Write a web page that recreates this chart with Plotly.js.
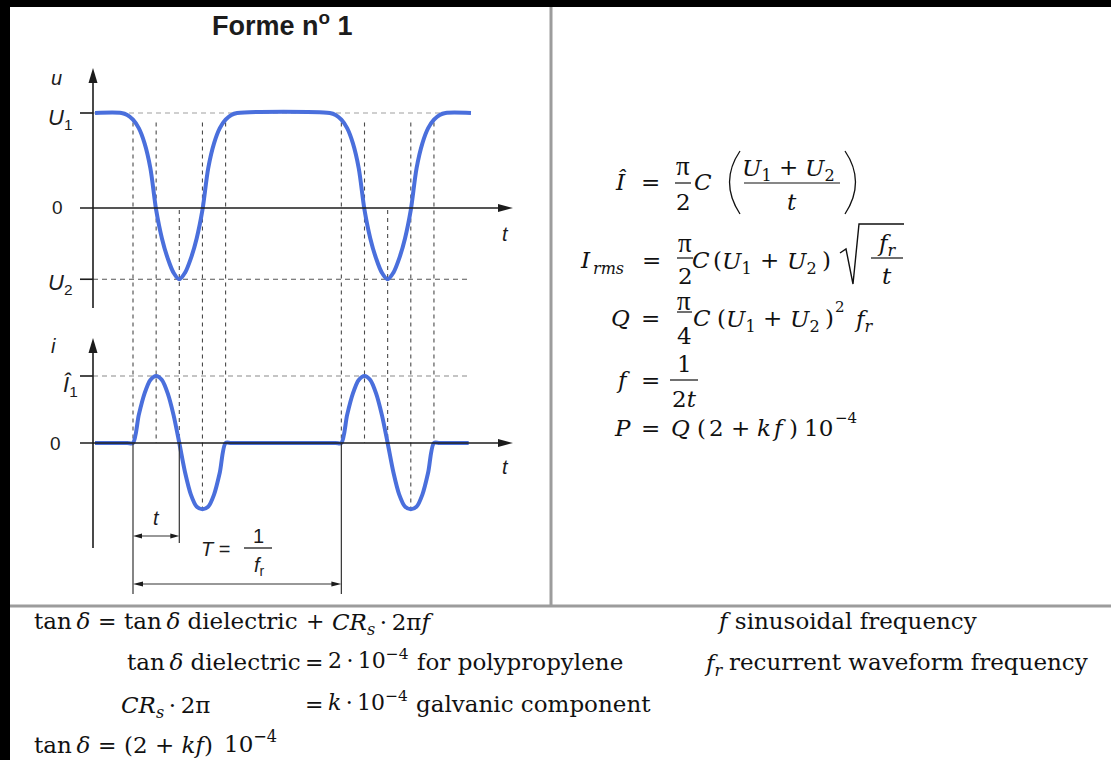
<!DOCTYPE html>
<html>
<head>
<meta charset="utf-8">
<script src="https://cdn.plot.ly/plotly-3.0.1.min.js"></script>
<style>html,body{margin:0;padding:0;background:#000;}</style>
</head>
<body>
<div id="chart" style="width:1111px;height:760px;"></div>
<script>
// Waveform "Forme no 1": capacitor voltage u and current i over time.
// Time is in units of t/2 (half of the transition time t); u is relative to U1, i relative to Î1.
const U1 = 1, U2 = -0.75, I1 = 1, Imin = -0.99;

const tU = [0.36, 1.5, 1.75, 2, 2.25, 2.5, 2.75, 3, 3.25, 3.5, 3.75, 4, 4.25, 4.5, 4.75, 5, 5.25, 5.5, 5.75, 6, 6.25, 6.5,
            10.5, 10.75, 11, 11.25, 11.5, 11.75, 12, 12.25, 12.5, 12.75, 13, 13.25, 13.5, 13.75, 14, 14.25, 14.5, 14.75, 15, 15.25, 15.5,
            16.6];
const uVal = [1, 1, 0.98, 0.93, 0.84, 0.68, 0.42, -0.02, -0.32, -0.53, -0.68, -0.75, -0.68, -0.53, -0.32, -0.02, 0.42, 0.68, 0.84, 0.93, 0.98, 1,
              1, 0.98, 0.93, 0.84, 0.68, 0.42, -0.02, -0.32, -0.53, -0.68, -0.75, -0.68, -0.53, -0.32, -0.02, 0.42, 0.68, 0.84, 0.93, 0.98, 1,
              1];

const tI = [0.36, 1.75, 2, 2.25, 2.5, 2.75, 3, 3.25, 3.5, 3.75, 4, 4.25, 4.5, 4.75, 5, 5.25, 5.5, 5.75, 6, 6.25,
            10.75, 11, 11.25, 11.5, 11.75, 12, 12.25, 12.5, 12.75, 13, 13.25, 13.5, 13.75, 14, 14.25, 14.5, 14.75, 15, 15.25,
            16.5];
const iVal = [0, 0, 0, 0.42, 0.74, 0.94, 1, 0.94, 0.74, 0.42, 0, -0.44, -0.77, -0.95, -0.99, -0.95, -0.77, -0.44, 0, 0,
              0, 0, 0.42, 0.74, 0.94, 1, 0.94, 0.74, 0.42, 0, -0.44, -0.77, -0.95, -0.99, -0.95, -0.77, -0.44, 0, 0,
              0];

// instants marked by the dashed guides
const markT = [2, 3, 4, 5, 6, 11, 12, 13, 14, 15];
const pulseStarts = [2, 11];   // T = 1/fr runs between these
const tSpan = [2, 4];          // transition time t

// ---------- page geometry ----------
const W = 1111, H = 760;
const X = p => p / W, Y = p => 1 - p / H;
const X0 = 86.7, XS = 23.15;            // time axis: pixel = X0 + XS * time
const xPx = t => X0 + XS * t;
const U0 = 208, US = 95;                // u panel: pixel = U0 - US * u
const I0 = 443, IS = 67;                // i panel: pixel = I0 - IS * i
const uPx = u => U0 - US * u, iPx = i => I0 - IS * i;

const SANS = 'Liberation Sans, Arial, sans-serif';
const SERIF = 'DejaVu Serif, serif';
const TIMES = 'Liberation Serif, serif';
const INK = '#1c1c1c';
const BLUE = '#4a6fdc';

const traces = [
  {x: tU, y: uVal, xaxis: 'x', yaxis: 'y', mode: 'lines', hoverinfo: 'skip',
   line: {color: BLUE, width: 4, shape: 'spline', smoothing: 0.9}},
  {x: tI, y: iVal, xaxis: 'x', yaxis: 'y2', mode: 'lines', hoverinfo: 'skip',
   line: {color: BLUE, width: 4, shape: 'spline', smoothing: 0.8}}
];

// ---------- helpers ----------
const seg = (x0, y0, x1, y1, color, width, dash, layer) => ({
  type: 'line', xref: 'paper', yref: 'paper', x0: X(x0), y0: Y(y0), x1: X(x1), y1: Y(y1),
  line: {color: color, width: width, dash: dash || 'solid'}, layer: layer || 'above'
});
function head(tx, ty, dx, dy, len, hw) {
  const bx = tx - dx * len, by = ty - dy * len, nx = -dy, ny = dx;
  const pts = [[tx, ty], [bx + nx * hw, by + ny * hw], [bx - nx * hw, by - ny * hw]];
  return {type: 'path', xref: 'paper', yref: 'paper', fillcolor: INK, line: {width: 0},
          path: 'M' + pts.map(p => X(p[0]) + ',' + Y(p[1])).join('L') + 'Z'};
}
function curve(pts, width) {
  let d = 'M' + X(pts[0][0]) + ',' + Y(pts[0][1]);
  for (let k = 1; k < pts.length; k++) {
    const p = pts[k];
    d += (p.length === 4 ? 'Q' + X(p[0]) + ',' + Y(p[1]) + ' ' + X(p[2]) + ',' + Y(p[3])
                         : 'L' + X(p[0]) + ',' + Y(p[1]));
  }
  return {type: 'path', xref: 'paper', yref: 'paper', path: d, line: {color: '#111', width: width || 1.3}};
}
function txt(x, y, text, size, family, xanchor, color) {
  return {x: X(x), y: Y(y), xref: 'paper', yref: 'paper', text: text, showarrow: false,
          xanchor: xanchor || 'center', yanchor: 'middle', borderpad: 0,
          font: {family: family || SANS, size: size || 19, color: color || INK}};
}
const eq = (x, y, text, size) => txt(x, y, text, size || 23, SERIF, 'center', '#111');
const pi = (x, y) => txt(x, y, 'π', 27, TIMES, 'center', '#111');
const eqL = (x, y, text, size) => txt(x, y, text, size || 23, SERIF, 'left', '#111');
const bar = (x0, x1, y) => seg(x0, y, x1, y, '#111', 1.2);
const TH = '\u2009';

const shapes = [];
const ann = [];

// frame: black border, white sheet, grey separators
shapes.push({type: 'rect', xref: 'paper', yref: 'paper', x0: X(10), x1: 1, y0: 0, y1: Y(7),
             fillcolor: '#ffffff', line: {width: 0}, layer: 'below'});
shapes.push(seg(551, 7, 551, 606, '#9c9c9c', 3));
shapes.push(seg(10, 606, 1111, 606, '#9c9c9c', 3));

// reference levels
const tAxis = (93 - X0) / XS, tEnd = 16.6;
shapes.push({type: 'line', xref: 'x', yref: 'y', x0: tAxis, x1: tEnd, y0: U1, y1: U1,
             line: {color: '#a0a0a0', width: 1.2, dash: '5px,4px'}, layer: 'below'});
shapes.push({type: 'line', xref: 'x', yref: 'y', x0: tAxis, x1: tEnd, y0: U2, y1: U2,
             line: {color: '#555', width: 1.2, dash: '5px,4px'}, layer: 'below'});
shapes.push({type: 'line', xref: 'x', yref: 'y2', x0: tAxis, x1: tEnd, y0: I1, y1: I1,
             line: {color: '#8a8a8a', width: 1.2, dash: '5px,4px'}, layer: 'below'});

// vertical guides linking u and i
markT.forEach(t => {
  const u = uVal[tU.indexOf(t)], i = iVal[tI.indexOf(t)];
  const top = (u <= U2 + 0.01) ? uPx(0) + 2 : uPx(0.9);
  const bottom = (i <= Imin + 0.01) ? iPx(i) : iPx(0);
  shapes.push({type: 'line', xref: 'x', yref: 'paper', x0: t, x1: t, y0: Y(top), y1: Y(bottom),
               line: {color: '#4a4a4a', width: 1.1, dash: '4px,4px'}, layer: 'below'});
});

// axes with arrowheads
shapes.push(seg(93, 308, 93, 80, INK, 1.6));
shapes.push(head(93, 68, 0, -1, 15, 4.5));
shapes.push(seg(80, uPx(0), 500, uPx(0), INK, 1.6));
shapes.push(head(513, uPx(0), 1, 0, 15, 4));
shapes.push(seg(93, 548, 93, 350, INK, 1.6));
shapes.push(head(93, 338, 0, -1, 15, 4.5));
shapes.push(seg(80, iPx(0), 500, iPx(0), INK, 1.6));
shapes.push(head(513, iPx(0), 1, 0, 15, 4));
shapes.push(seg(80, uPx(U1), 93, uPx(U1), INK, 1.6));
shapes.push(seg(80, uPx(U2), 93, uPx(U2), INK, 1.6));
shapes.push(seg(80, iPx(I1), 93, iPx(I1), INK, 1.6));

// dimension lines: t and T = 1/fr
const yT = 584, yt = 536;
pulseStarts.forEach(t => shapes.push(seg(xPx(t), iPx(0), xPx(t), 594, '#333', 1.2)));
shapes.push(seg(xPx(tSpan[1]), iPx(0), xPx(tSpan[1]), 543, '#333', 1.2));
shapes.push(seg(xPx(tSpan[0]) + 4, yt, xPx(tSpan[1]) - 4, yt, '#333', 1.2));
shapes.push(head(xPx(tSpan[0]), yt, -1, 0, 9, 2.5));
shapes.push(head(xPx(tSpan[1]), yt, 1, 0, 9, 2.5));
shapes.push(seg(xPx(pulseStarts[0]) + 4, yT, xPx(pulseStarts[1]) - 4, yT, '#333', 1.2));
shapes.push(head(xPx(pulseStarts[0]), yT, -1, 0, 10, 2.5));
shapes.push(head(xPx(pulseStarts[1]), yT, 1, 0, 10, 2.5));

// ---------- diagram labels ----------
ann.push(txt(282, 24, '<b>Forme n<sup>o</sup> 1</b>', 27));
ann.push(txt(56, 78, '<i>u</i>', 20));
ann.push(txt(60, 119, '<i>U</i><sub>1</sub>', 22));
ann.push(txt(57, uPx(0), '0', 19));
ann.push(txt(60, 284, '<i>U</i><sub>2</sub>', 22));
ann.push(txt(505, 234, '<i>t</i>', 20));
ann.push(txt(53, 346, '<i>i</i>', 20));
ann.push(txt(70, 386, '<i>Î</i><sub>1</sub>', 22));
ann.push(txt(55, iPx(0), '0', 19));
ann.push(txt(505, 467, '<i>t</i>', 20));
ann.push(txt((xPx(tSpan[0]) + xPx(tSpan[1])) / 2, 518, '<i>t</i>', 20));
ann.push(txt(215, 549, '<i>T</i> =', 20));
ann.push(txt(258, 536, '1', 20));
shapes.push(seg(244, 548, 272, 548, INK, 1.3));
ann.push(txt(259, 566, '<i>f</i><sub>r</sub>', 20));

// ---------- formulas ----------
// Î = π/2 C ((U1 + U2)/t)
ann.push(eq(621, 182, '<i>Î</i>'));
ann.push(eq(650, 182, '='));
ann.push(pi(683, 166)); ann.push(eq(683, 202, '2')); shapes.push(bar(675, 691, 183));
ann.push(eq(703, 182, '<i>C</i>'));
shapes.push(curve([[740, 151], [719, 182, 740, 214]]));
ann.push(eq(757, 170, '<i>U</i><sub>1</sub>')); ann.push(eq(788, 167, '+')); ann.push(eq(820, 170, '<i>U</i><sub>2</sub>'));
shapes.push(bar(744, 840, 183));
ann.push(eq(792, 202, '<i>t</i>'));
shapes.push(curve([[845, 151], [866, 182, 845, 214]]));

// Irms = π/2 C (U1 + U2) sqrt(fr/t)
ann.push(eq(585, 260, '<i>I</i>'));
ann.push(eqL(592, 268, '<i>rms</i>', 16));
ann.push(eq(651, 260, '='));
ann.push(pi(685, 243)); ann.push(eq(685, 276, '2')); shapes.push(bar(677, 693, 258));
ann.push(eq(701, 260, '<i>C</i>'));
ann.push(eq(717, 260, '('));
ann.push(eq(737, 263, '<i>U</i><sub>1</sub>'));
ann.push(eq(769, 260, '+'));
ann.push(eq(802, 263, '<i>U</i><sub>2</sub>'));
ann.push(eq(826, 260, ')'));
shapes.push(curve([[840, 253], [846, 249], [853, 284], [859, 224], [904, 224]], 1.4));
ann.push(eq(887, 245, '<i>f</i><sub><i>r</i></sub>')); ann.push(eq(887, 276, '<i>t</i>')); shapes.push(bar(871, 903, 258));

// Q = π/4 C (U1 + U2)^2 fr
ann.push(eq(620, 318, '<i>Q</i>'));
ann.push(eq(650, 318, '='));
ann.push(pi(684, 301)); ann.push(eq(684, 336, '4')); shapes.push(bar(677, 692, 312));
ann.push(eq(702, 318, '<i>C</i>'));
ann.push(eq(721, 318, '('));
ann.push(eq(741, 321, '<i>U</i><sub>1</sub>'));
ann.push(eq(772, 318, '+'));
ann.push(eq(805, 321, '<i>U</i><sub>2</sub>'));
ann.push(eq(829, 318, ')'));
ann.push(eq(840, 307, '2', 15));
ann.push(eq(864, 321, '<i>f</i><sub><i>r</i></sub>'));

// f = 1/(2t)
ann.push(eq(623, 380, '<i>f</i>'));
ann.push(eq(650, 380, '='));
ann.push(eq(684, 364, '1')); ann.push(eq(684, 399, '2<i>t</i>')); shapes.push(bar(670, 698, 380));

// P = Q (2 + kf) 10^-4
ann.push(eq(622, 428, '<i>P</i>'));
ann.push(eq(650, 428, '='));
ann.push(eq(680, 428, '<i>Q</i>'));
ann.push(eq(702, 428, '('));
ann.push(eq(716, 428, '2'));
ann.push(eq(740, 428, '+'));
ann.push(eq(764, 428, '<i>k</i>'));
ann.push(eq(779, 428, '<i>f</i>'));
ann.push(eq(793, 428, ')'));
ann.push(eq(818, 428, '10'));
ann.push(eq(846, 418, '−4', 15));

// ---------- loss factor notes ----------
ann.push(eqL(33, 621, 'tan' + TH + '<i>δ</i>'));
ann.push(eqL(97, 621, '=', 22));
ann.push(eqL(123, 621, 'tan' + TH + '<i>δ</i> dielectric'));
ann.push(eqL(305, 621, '+', 22));
ann.push(eqL(331, 624, '<i>CR</i><sub><i>s</i></sub>' + TH + '·' + TH + '2π<i>f</i>'));
ann.push(eqL(716, 621, '<i>f</i> sinusoidal frequency'));

ann.push(eqL(126, 662, 'tan' + TH + '<i>δ</i> dielectric'));
ann.push(eqL(304, 662, '=', 22));
ann.push(eqL(327, 659, '2' + TH + '·' + TH + '10<sup>−4</sup>', 22));
ann.push(eqL(416, 662, 'for polypropylene'));
ann.push(eqL(703, 665, '<i>f</i><sub><i>r</i></sub>'));
ann.push(eqL(728, 662, 'recurrent waveform frequency'));

ann.push(eqL(120, 707, '<i>CR</i><sub><i>s</i></sub>' + TH + '·' + TH + '2π'));
ann.push(eqL(304, 704, '=', 22));
ann.push(eqL(327, 701, '<i>k</i>' + TH + '·' + TH + '10<sup>−4</sup>', 22));
ann.push(eqL(415, 704, 'galvanic component'));

ann.push(eqL(33, 745, 'tan' + TH + '<i>δ</i>'));
ann.push(eqL(97, 745, '=', 22));
ann.push(eqL(123, 745, '(2 + <i>kf</i>)'));
ann.push(eqL(223, 742, '10<sup>−4</sup>'));

const layout = {
  width: W, height: H,
  margin: {l: 0, r: 0, t: 0, b: 0, pad: 0},
  paper_bgcolor: '#000000', plot_bgcolor: 'rgba(0,0,0,0)',
  showlegend: false,
  xaxis: {domain: [0, 1], range: [-X0 / XS, (W - X0) / XS], visible: false, fixedrange: true},
  yaxis: {domain: [Y(320), Y(60)], range: [(U0 - 320) / US, (U0 - 60) / US], visible: false, fixedrange: true},
  yaxis2: {domain: [Y(600), Y(330)], range: [(I0 - 600) / IS, (I0 - 330) / IS], visible: false, fixedrange: true, anchor: 'x'},
  shapes: shapes,
  annotations: ann
};

Plotly.newPlot('chart', traces, layout, {staticPlot: true, displayModeBar: false});
</script>
</body>
</html>
